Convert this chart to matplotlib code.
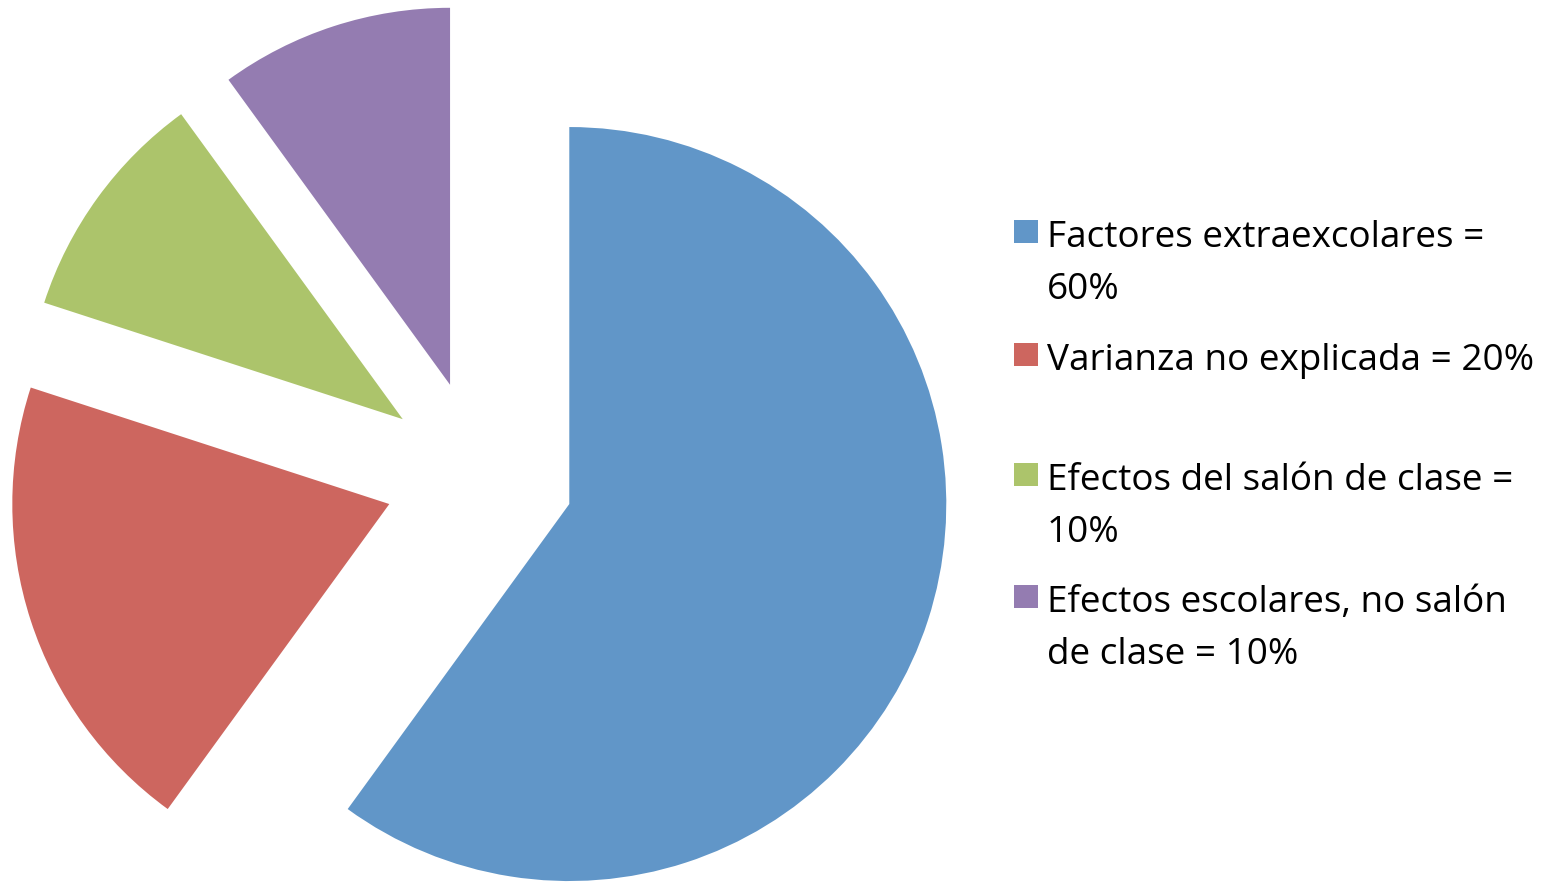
import matplotlib
matplotlib.use("Agg")
import matplotlib.pyplot as plt
from matplotlib.patches import Rectangle

W, H = 1555, 882

labels = [
    "Factores extraexcolares =\n60%",
    "Varianza no explicada = 20%",
    "Efectos del salón de clase =\n10%",
    "Efectos escolares, no salón\nde clase = 10%",
]
shares = [60, 20, 10, 10]
colors = ["#6196C8", "#CD665F", "#ACC46B", "#947CB1"]

plt.rcParams["font.family"] = ["Open Sans", "DejaVu Sans"]

fig = plt.figure(figsize=(W / 100, H / 100), dpi=100)
ax = fig.add_axes([0, 0, 1, 1])

# pie centre (px, from top-left) and radius in px
cx, cy, r = 479.3, 474.8, 377.0
ax.pie(shares, colors=colors, startangle=90, counterclock=False,
       explode=[0.251] * 4, radius=1.0, center=(0, 0),
       wedgeprops=dict(linewidth=0))
ax.set_xlim(-cx / r, (W - cx) / r)
ax.set_ylim(-(H - cy) / r, cy / r)
ax.set_aspect("auto")
ax.axis("off")

# legend, drawn by hand so the swatch sits on the first line
baselines = [247, 370, 490, 612]
line_gap = 52
for lab, col, base in zip(labels, colors, baselines):
    fig.patches.append(Rectangle((1014 / W, 1 - (base - 4) / H), 24 / W, 23 / H,
                                 transform=fig.transFigure, color=col, lw=0))
    for k, line in enumerate(lab.split("\n")):
        fig.text(1047 / W, 1 - (base + k * line_gap) / H, line,
                 fontsize=26.6, va="baseline", ha="left", color="black")

fig.savefig("out.png", dpi=100)
